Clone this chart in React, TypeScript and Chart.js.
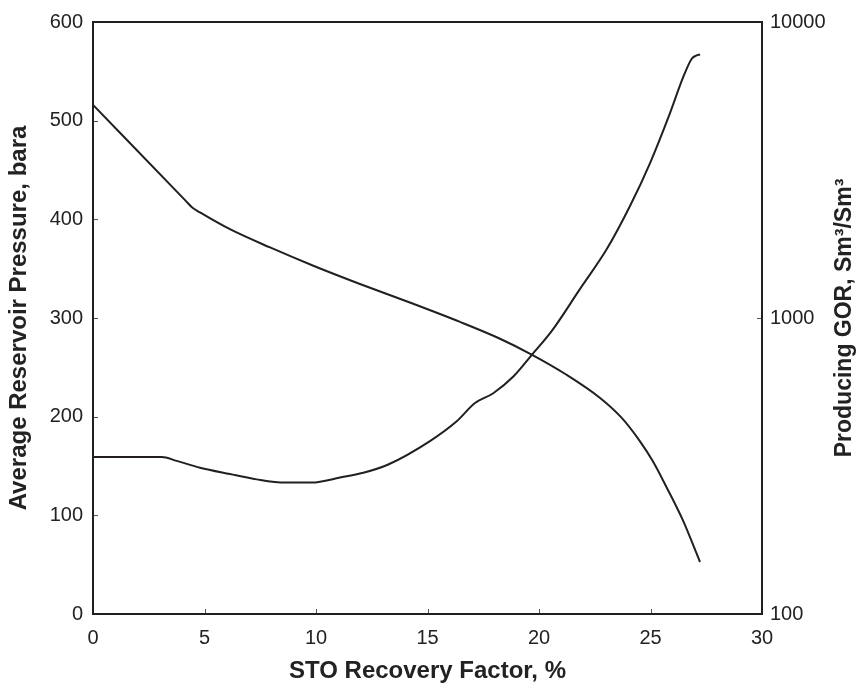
import React, { useEffect, useRef } from "react";
import { Chart, registerables } from "chart.js";

Chart.register(...registerables);

// STO recovery factor (%) for the pressure curve
const recoveryPressure = [0, 4.15, 4.45, 4.8, 6.14, 7.94, 9.88, 11.97, 14.36, 16.46, 18.25, 19.67, 21.2, 22.74, 23.7, 24.53, 25.1, 25.73, 26.46, 27.22];
// Average reservoir pressure (bara)
const pressure = [516, 419, 412, 407, 390, 371.5, 353, 334.5, 314.4, 296, 279, 263, 243, 219, 199, 175, 155, 128, 94.6, 52.7];

// STO recovery factor (%) for the GOR curve
const recoveryGor = [0, 3.08, 3.75, 4.8, 6.14, 7.34, 8.61, 9.81, 11.08, 12.12, 13.24, 15.11, 16.31, 17.13, 17.95, 18.85, 19.67, 20.6, 21.84, 23.04, 24.08, 24.98, 25.87, 26.47, 26.85, 27.05, 27.22];
// Producing GOR (Sm3/Sm3)
const gor = [339, 339, 329, 312, 297, 285, 278, 278, 289, 300, 320, 384, 448, 516, 557, 634, 749, 910, 1254, 1709, 2389, 3338, 4913, 6521, 7512, 7700, 7767];

const gorTicks = [100, 1000, 10000];

const xTitle = "STO Recovery Factor, %";
const leftTitle = "Average Reservoir Pressure, bara";
const rightTitle = "Producing GOR, Sm³/Sm³";

const FONT = "'Liberation Sans', Arial, sans-serif";
const LINE = "#231f20";
const TEXT = "#222222";

const framePlugin = {
  id: "frame",
  afterDraw(chart: any) {
    const { ctx, chartArea: a, scales } = chart;
    ctx.save();
    ctx.strokeStyle = "#555555";
    ctx.lineWidth = 1;
    const tick = (x1: number, y1: number, x2: number, y2: number) => {
      ctx.beginPath();
      ctx.moveTo(x1, y1);
      ctx.lineTo(x2, y2);
      ctx.stroke();
    };
    scales.x.ticks.forEach((t: any) => {
      const px = Math.round(scales.x.getPixelForValue(t.value)) + 0.5;
      tick(px, a.bottom, px, a.bottom - 5);
    });
    scales.y.ticks.forEach((t: any) => {
      const py = Math.round(scales.y.getPixelForValue(t.value)) + 0.5;
      tick(a.left, py, a.left + 5, py);
    });
    scales.y1.ticks.forEach((t: any) => {
      const py = Math.round(scales.y1.getPixelForValue(t.value)) + 0.5;
      tick(a.right, py, a.right - 5, py);
    });
    ctx.strokeStyle = LINE;
    ctx.lineWidth = 2;
    ctx.strokeRect(a.left, a.top, a.right - a.left, a.bottom - a.top);

    ctx.fillStyle = TEXT;
    ctx.font = `bold 23px ${FONT}`;
    ctx.textAlign = "center";
    ctx.textBaseline = "middle";
    ctx.translate(845, (a.top + a.bottom) / 2);
    ctx.rotate(-Math.PI / 2);
    ctx.fillText(rightTitle, 0, 0);
    ctx.restore();
  },
};

export default function App() {
  const ref = useRef<HTMLCanvasElement>(null);

  useEffect(() => {
    if (!ref.current) return;
    const chart = new Chart(ref.current, {
      type: "line",
      data: {
        datasets: [
          {
            label: "Pressure",
            data: recoveryPressure.map((x, i) => ({ x, y: pressure[i] })),
            yAxisID: "y",
            borderColor: LINE,
            borderWidth: 2,
            pointRadius: 0,
            cubicInterpolationMode: "monotone",
            fill: false,
          },
          {
            label: "GOR",
            data: recoveryGor.map((x, i) => ({ x, y: gor[i] })),
            yAxisID: "y1",
            borderColor: LINE,
            borderWidth: 2,
            pointRadius: 0,
            cubicInterpolationMode: "monotone",
            fill: false,
          },
        ],
      },
      options: {
        responsive: false,
        animation: false,
        layout: { padding: { top: 18, left: 0, right: 0, bottom: 0 } },
        plugins: {
          legend: { display: false },
          tooltip: { enabled: false },
        },
        scales: {
          x: {
            type: "linear",
            min: 0,
            max: 30,
            grid: { display: false, drawTicks: false, tickLength: 0 },
            border: { display: false },
            ticks: {
              stepSize: 5,
              padding: 12,
              color: TEXT,
              font: { family: FONT, size: 20 },
              maxRotation: 0,
            },
            title: {
              display: true,
              text: xTitle,
              color: TEXT,
              font: { family: FONT, size: 24, weight: "bold" },
              padding: { top: 0, bottom: 1 },
            },
            afterFit: (s: any) => {
              s.height = 73;
            },
          },
          y: {
            type: "linear",
            position: "left",
            min: 0,
            max: 600,
            grid: { display: false, drawTicks: false, tickLength: 0 },
            border: { display: false },
            ticks: {
              stepSize: 100,
              padding: 10,
              color: TEXT,
              font: { family: FONT, size: 20 },
            },
            title: {
              display: true,
              text: leftTitle,
              color: TEXT,
              font: { family: FONT, size: 24, weight: "bold" },
              padding: { top: 5, bottom: 0 },
            },
            afterFit: (s: any) => {
              s.width = 93;
            },
          },
          y1: {
            type: "logarithmic",
            position: "right",
            min: 100,
            max: 10000,
            grid: { display: false, drawTicks: false, tickLength: 0 },
            border: { display: false },
            afterBuildTicks: (s: any) => {
              s.ticks = gorTicks.map((v) => ({ value: v }));
            },
            ticks: {
              padding: 8,
              color: TEXT,
              font: { family: FONT, size: 20 },
              callback: (v: any) => String(v),
            },
            afterFit: (s: any) => {
              s.width = 98;
            },
          },
        },
      },
      plugins: [framePlugin],
    });
    return () => chart.destroy();
  }, []);

  return (
    <div style={{ position: "fixed", left: 0, top: 0, width: 860, height: 687, background: "#ffffff" }}>
      <canvas ref={ref} width={860} height={687} style={{ display: "block" }} />
    </div>
  );
}
